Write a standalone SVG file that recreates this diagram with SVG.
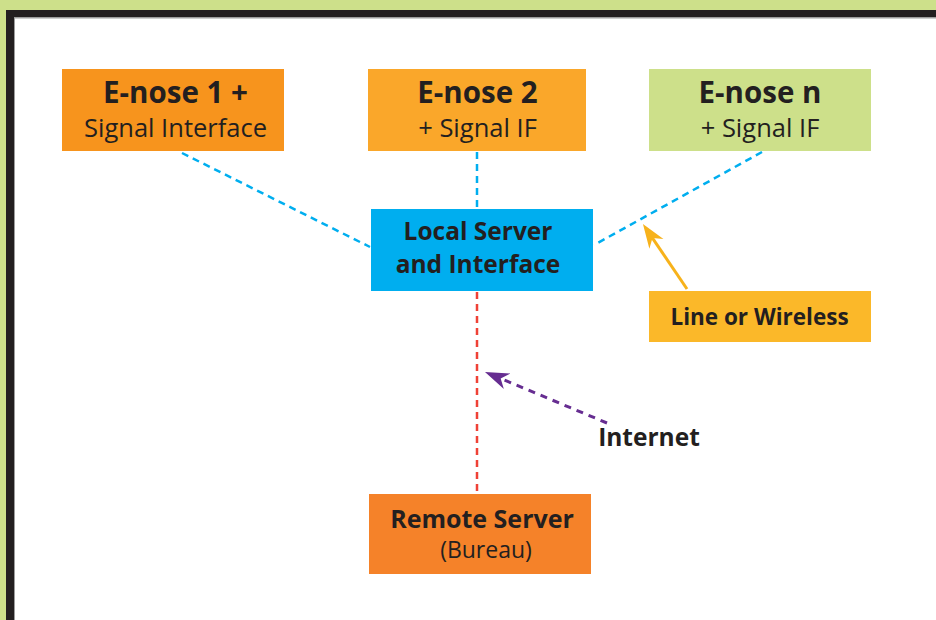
<svg xmlns="http://www.w3.org/2000/svg" width="936" height="620" viewBox="0 0 936 620">
  <style>
    .title { font-family: "Open Sans", "Noto Sans", "Liberation Sans", sans-serif; font-weight: bold; fill: #231f20; text-anchor: middle; }
    .sub { font-family: "Open Sans", "Noto Sans", "Liberation Sans", sans-serif; font-weight: normal; fill: #231f20; text-anchor: middle; }
    .link { fill: none; stroke: #00aeef; stroke-width: 2.5; stroke-dasharray: 7 5; }
    .net { fill: none; stroke: #ef4136; stroke-width: 2.5; stroke-dasharray: 7 5; }
  </style>
  <defs>
    <marker id="headGold" viewBox="-24 -10 26 20" refX="-14" refY="0" markerWidth="26" markerHeight="20" markerUnits="userSpaceOnUse" orient="auto">
      <path d="M0,0 L-24,-8.5 L-17,0 L-24,8.5 Z" fill="#f7b21b"/>
    </marker>
    <marker id="headPurple" viewBox="-24 -10 26 20" refX="-14" refY="0" markerWidth="26" markerHeight="20" markerUnits="userSpaceOnUse" orient="auto">
      <path d="M0,0 L-24,-8.5 L-17,0 L-24,8.5 Z" fill="#662d91"/>
    </marker>
  </defs>

  <!-- page frame -->
  <rect x="0" y="0" width="936" height="620" fill="#cde08a"/>
  <rect x="6" y="10" width="930" height="610" fill="#231f20"/>
  <rect x="14" y="17" width="922" height="603" fill="#9d9d9d"/>
  <rect x="15" y="18.5" width="921" height="601.5" fill="#ffffff"/>

  <!-- connectors -->
  <g id="connectors">
    <line class="link" x1="182" y1="153" x2="370" y2="247"/>
    <line class="link" x1="477" y1="152" x2="477" y2="209"/>
    <line class="link" x1="762" y1="152" x2="594" y2="245"/>
    <line class="net" x1="477" y1="292" x2="477" y2="491"/>
    <line x1="687" y1="289" x2="650.8" y2="235.6" stroke="#f7b21b" stroke-width="3" marker-end="url(#headGold)"/>
    <line x1="607" y1="423" x2="497.9" y2="377.4" stroke="#662d91" stroke-width="3" stroke-dasharray="7 6" marker-end="url(#headPurple)"/>
  </g>

  <!-- nodes -->
  <g id="enose1">
    <rect x="62" y="69" width="222" height="82" fill="#f7941d"/>
    <text class="title" x="175.5" y="103" font-size="29.5">E-nose 1 +</text>
    <text class="sub" x="175.5" y="137" font-size="25.5">Signal Interface</text>
  </g>
  <g id="enose2">
    <rect x="368" y="69" width="218" height="82" fill="#faa72a"/>
    <text class="title" x="477.5" y="103" font-size="29.5">E-nose 2</text>
    <text class="sub" x="477.5" y="137" font-size="25.5">+ Signal IF</text>
  </g>
  <g id="enosen">
    <rect x="649" y="69" width="222" height="82" fill="#cde08a"/>
    <text class="title" x="760" y="103" font-size="29.5">E-nose n</text>
    <text class="sub" x="760" y="137" font-size="25.5">+ Signal IF</text>
  </g>
  <g id="localServer">
    <rect x="371" y="209" width="222" height="82" fill="#00aeef"/>
    <text class="title" x="478" y="240" font-size="24.5">Local Server</text>
    <text class="title" x="478" y="273" font-size="24.5">and Interface</text>
  </g>
  <g id="lineWireless">
    <rect x="649" y="291" width="222" height="51" fill="#fbb829"/>
    <text class="title" x="759.5" y="325" font-size="22.5">Line or Wireless</text>
  </g>
  <g id="internet">
    <text class="title" x="649" y="446" font-size="24.5">Internet</text>
  </g>
  <g id="remoteServer">
    <rect x="369" y="494" width="222" height="80" fill="#f58229"/>
    <text class="title" x="482" y="528" font-size="25">Remote Server</text>
    <text class="sub" x="486" y="558" font-size="23">(Bureau)</text>
  </g>
</svg>
